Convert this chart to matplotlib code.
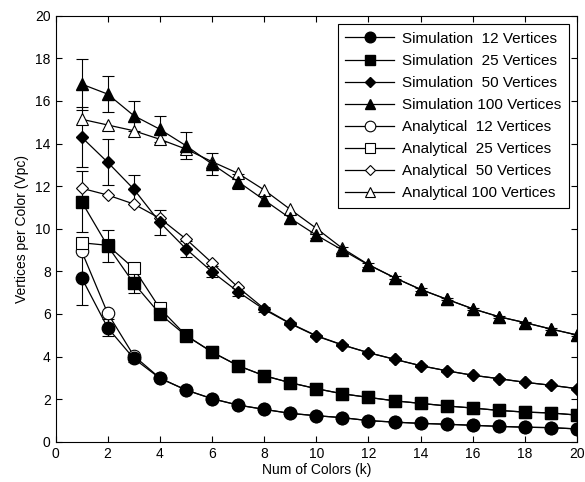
import matplotlib
matplotlib.use("Agg")
import matplotlib.pyplot as plt
import numpy as np

plt.rcParams['font.family'] = ['Liberation Sans', 'DejaVu Sans']

k = list(range(1, 21))

sim12 = [7.70, 5.35, 3.91, 2.98, 2.43, 2.02, 1.72, 1.52, 1.33, 1.22,
         1.13, 0.99, 0.92, 0.86, 0.82, 0.77, 0.72, 0.68, 0.66, 0.60]
sim25 = [11.27, 9.19, 7.44, 6.00, 4.98, 4.21, 3.57, 3.10, 2.77, 2.49,
         2.25, 2.08, 1.92, 1.80, 1.68, 1.58, 1.47, 1.39, 1.35, 1.25]
sim50 = [14.30, 13.12, 11.86, 10.30, 9.06, 7.98, 7.04, 6.21, 5.54, 4.96,
         4.54, 4.18, 3.87, 3.57, 3.33, 3.12, 2.96, 2.79, 2.65, 2.49]
sim100 = [16.79, 16.32, 15.31, 14.67, 13.90, 13.04, 12.21, 11.35, 10.49, 9.70,
          9.00, 8.30, 7.70, 7.15, 6.69, 6.24, 5.87, 5.59, 5.29, 5.01]

err12 = [1.30, 0.40, 0.15, 0.10, 0.05, 0.05, 0.03, 0.03, 0.02, 0.02,
         0.02, 0.02, 0.02, 0.02, 0.02, 0.02, 0.02, 0.02, 0.02, 0.02]
err25 = [1.42, 0.75, 0.47, 0.20, 0.12, 0.08, 0.05, 0.04, 0.03, 0.03,
         0.03, 0.03, 0.03, 0.03, 0.02, 0.02, 0.02, 0.02, 0.02, 0.02]
err50 = [1.40, 1.07, 0.68, 0.60, 0.37, 0.25, 0.18, 0.12, 0.08, 0.06,
         0.05, 0.05, 0.04, 0.04, 0.04, 0.03, 0.03, 0.03, 0.03, 0.03]
err100 = [1.20, 0.85, 0.70, 0.60, 0.62, 0.50, 0.35, 0.30, 0.20, 0.15,
          0.12, 0.10, 0.08, 0.07, 0.06, 0.05, 0.05, 0.04, 0.04, 0.04]

ana12 = [8.95, 6.03, 4.04, 2.99, 2.43, 2.02, 1.72, 1.52, 1.33, 1.22,
         1.13, 0.99, 0.92, 0.86, 0.82, 0.77, 0.72, 0.68, 0.66, 0.60]
ana25 = [9.34, 9.22, 8.14, 6.26, 5.00, 4.21, 3.57, 3.10, 2.77, 2.49,
         2.25, 2.08, 1.92, 1.80, 1.68, 1.58, 1.47, 1.39, 1.35, 1.25]
ana50 = [11.90, 11.58, 11.16, 10.49, 9.52, 8.40, 7.25, 6.25, 5.56, 4.98,
         4.55, 4.18, 3.87, 3.57, 3.33, 3.12, 2.96, 2.79, 2.65, 2.49]
ana100 = [15.14, 14.87, 14.60, 14.20, 13.74, 13.15, 12.60, 11.82, 10.91, 10.02,
          9.08, 8.32, 7.70, 7.15, 6.69, 6.24, 5.87, 5.59, 5.29, 5.01]

labels_sim = ["Simulation  12 Vertices", "Simulation  25 Vertices",
              "Simulation  50 Vertices", "Simulation 100 Vertices"]
labels_ana = ["Analytical  12 Vertices", "Analytical  25 Vertices",
              "Analytical  50 Vertices", "Analytical 100 Vertices"]

fig = plt.figure(figsize=(5.85, 4.82), dpi=100)
ax = fig.add_axes([0.0949, 0.0836, 0.8915, 0.8838])

markers = ['o', 's', 'D', '^']
msizes = [9, 8, 6.5, 8.5]
sims = [sim12, sim25, sim50, sim100]
errs = [err12, err25, err50, err100]
anas = [ana12, ana25, ana50, ana100]

handles = []
for s, e, m, ms, lab in zip(sims, errs, markers, msizes, labels_sim):
    ax.errorbar(k, s, yerr=e, fmt='none', ecolor='black', elinewidth=0.8,
                capsize=4, capthick=0.8, zorder=2)
    h, = ax.plot(k, s, '-', color='black', lw=0.9, marker=m, markersize=ms,
                 markerfacecolor='black', markeredgecolor='black', label=lab, zorder=4)
    handles.append(h)
for a, m, ms, lab in zip(anas, markers, msizes, labels_ana):
    h, = ax.plot(k, a, '-', color='black', lw=0.9, marker=m, markersize=ms,
                 markerfacecolor='white', markeredgecolor='black', markeredgewidth=0.8,
                 label=lab, zorder=3)
    handles.append(h)

ax.set_xlim(0, 20)
ax.set_ylim(0, 20)
ax.set_xticks(range(0, 21, 2))
ax.set_yticks(range(0, 21, 2))
ax.tick_params(direction='in', top=True, right=True, labelsize=10, length=4)
for sp in ax.spines.values():
    sp.set_linewidth(0.8)
ax.set_xlabel("Num of Colors (k)", fontsize=10, labelpad=2)
ax.set_ylabel("Vertices per Color (Vpc)", fontsize=10, labelpad=4)

leg = ax.legend(handles=handles, loc='upper right', fontsize=11, frameon=True,
                fancybox=False, edgecolor='black', framealpha=1,
                handlelength=3.2, labelspacing=0.53, borderaxespad=0.55,
                handletextpad=0.5, borderpad=0.5, markerscale=0.85,
                bbox_to_anchor=(1.0, 1.0))
leg.get_frame().set_linewidth(0.8)

fig.savefig("out.png", dpi=100)
